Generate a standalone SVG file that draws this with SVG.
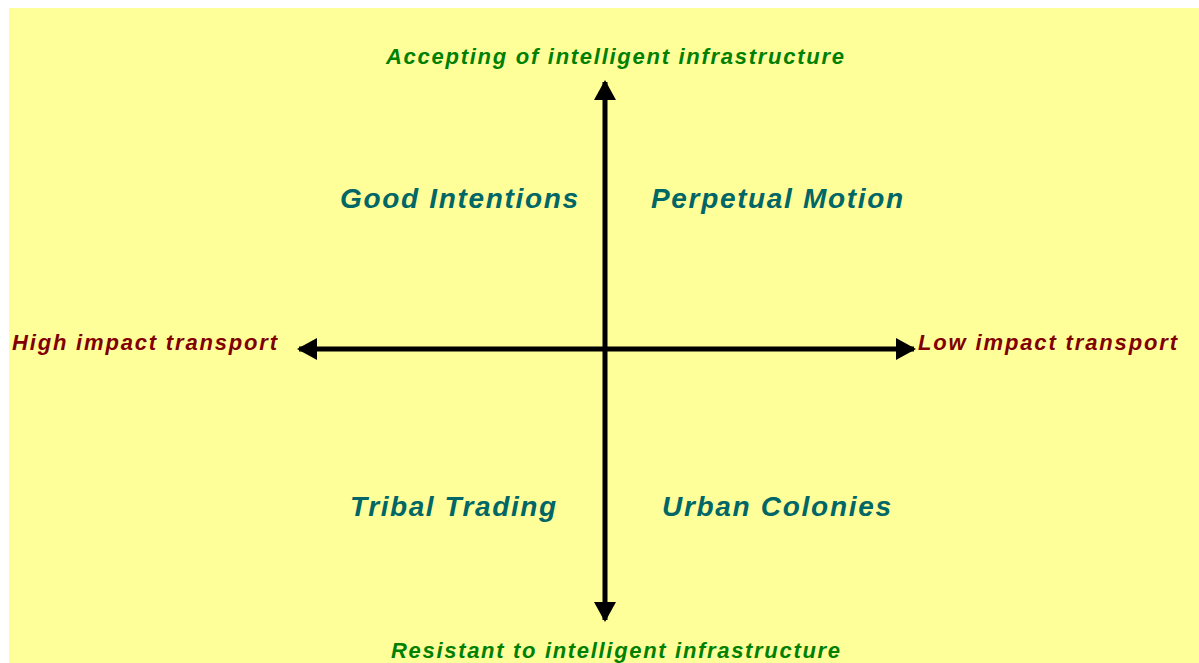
<svg xmlns="http://www.w3.org/2000/svg" width="1199" height="663" viewBox="0 0 1199 663">
<style>
text{font-family:"Liberation Sans",Arial,sans-serif;font-weight:bold;font-style:italic}
.ax{fill:#008000;font-size:22px}
.tr{fill:#800000;font-size:22px}
.q{fill:#006666;font-size:28px}
.line{stroke:#000;stroke-width:5;fill:none}
</style>
<defs>
<marker id="ah" viewBox="0 0 20 22" refX="18" refY="11" markerWidth="20" markerHeight="22" markerUnits="userSpaceOnUse" orient="auto">
<path d="M0,0 L20,11 L0,22 Z" fill="#000"/>
</marker>
</defs>
<rect x="9" y="8" width="1190" height="655" fill="#FFFF99"/>
<g id="connectors">
<line class="line" x1="605" y1="349" x2="605" y2="82" marker-end="url(#ah)"/>
<line class="line" x1="605" y1="349" x2="605" y2="620" marker-end="url(#ah)"/>
<line class="line" x1="605" y1="349" x2="299" y2="349" marker-end="url(#ah)"/>
<line class="line" x1="605" y1="349" x2="914" y2="349" marker-end="url(#ah)"/>
</g>
<g id="top"><text class="ax" x="386" y="64" textLength="458" lengthAdjust="spacing">Accepting of intelligent infrastructure</text></g>
<g id="bottom"><text class="ax" x="391" y="658" textLength="449" lengthAdjust="spacing">Resistant to intelligent infrastructure</text></g>
<g id="left"><text class="tr" x="12" y="350" textLength="265" lengthAdjust="spacing">High impact transport</text></g>
<g id="right"><text class="tr" x="918" y="350" textLength="259" lengthAdjust="spacing">Low impact transport</text></g>
<g id="good-intentions"><text class="q" x="340" y="208" textLength="238" lengthAdjust="spacing">Good Intentions</text></g>
<g id="perpetual-motion"><text class="q" x="651" y="208" textLength="252" lengthAdjust="spacing">Perpetual Motion</text></g>
<g id="tribal-trading"><text class="q" x="350" y="516" textLength="206" lengthAdjust="spacing">Tribal Trading</text></g>
<g id="urban-colonies"><text class="q" x="662" y="516" textLength="229" lengthAdjust="spacing">Urban Colonies</text></g>
</svg>
